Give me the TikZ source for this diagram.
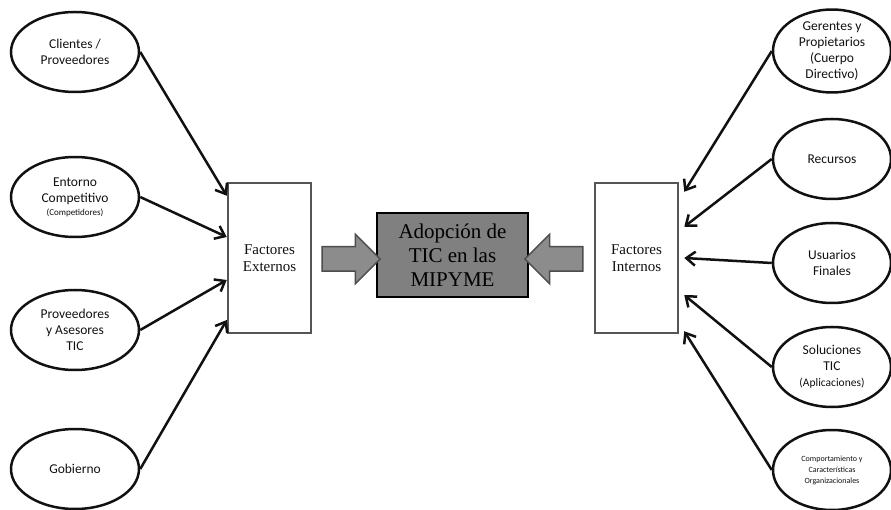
\documentclass[tikz,border=0pt]{standalone}
\usepackage{fontspec}
\setmainfont{Liberation Serif}
\newfontfamily\elfont{Carlito}
\usepackage{tikz}
\usepackage{xcolor}
\usetikzlibrary{arrows.meta, positioning, shapes, shapes.arrows}
\definecolor{FigInk}{HTML}{111111}
\definecolor{BoxInk}{HTML}{555555}
\definecolor{CoreFill}{HTML}{808080}
\definecolor{BigArrow}{HTML}{8C8C8C}
\definecolor{BigArrowInk}{HTML}{4D4D4D}

\begin{document}
\begin{tikzpicture}[x=1pt, y=-1pt, >={Straight Barb[length=9pt, width=14pt, line width=2.5pt]},
  factor/.style={draw=FigInk, ellipse, line width=2.5pt, minimum width=128pt,
    minimum height=80pt, inner sep=0pt, align=center, font=\elfont\fontsize{13.5}{16}\selectfont, text=FigInk},
  group/.style={draw=BoxInk, fill=white, line width=2.5pt, minimum width=83pt,
    minimum height=150pt, align=center, font=\fontsize{15}{17}\selectfont, text=FigInk},
  bigarrow/.style={single arrow, draw=BigArrowInk, fill=BigArrow, line width=1.5pt,
    minimum height=58pt, inner xsep=0pt, inner ysep=11.5pt, single arrow head extend=12.5pt},
  link/.style={->, FigInk, line width=2.5pt}]
\useasboundingbox (0,0) rectangle (891,510);
% factores externos
\node[factor] (cli) at (75,52) {Clientes /\\Proveedores};
\node[factor] (ent) at (75,197) {Entorno\\Competitivo\\[-3pt]{\fontsize{9}{10}\selectfont (Competidores)}};
\node[factor] (pro) at (75,330) {Proveedores\\y Asesores\\TIC};
\node[factor] (gob) at (75,469) {Gobierno};
% factores internos
\node[factor, minimum width=118pt, font=\elfont\fontsize{13.5}{16}\selectfont] (ger) at (832,51)
  {Gerentes y\\Propietarios\\(Cuerpo\\Directivo)};
\node[factor, minimum width=118pt] (rec) at (832,159) {Recursos};
\node[factor, minimum width=118pt] (usu) at (832,263) {Usuarios\\Finales};
\node[factor, minimum width=118pt] (sol) at (832,367) {Soluciones\\TIC\\{\fontsize{11.5}{13}\selectfont (Aplicaciones)}};
\node[factor, minimum width=118pt, font=\elfont\fontsize{8}{11}\selectfont] (com) at (832,470)
  {Comportamiento y\\Caracter\'isticas\\Organizacionales};
% cajas
\node[group] (ext) at (269.5,258) {Factores\\Externos};
\node[group] (int) at (636.5,258) {Factores\\Internos};
\node[draw=black, fill=CoreFill, line width=2.6pt, minimum width=151pt, minimum height=84pt,
      align=center, font=\fontsize{21}{24}\selectfont, text=black] (tic) at (452.5,255)
  {Adopci\'on de\\TIC en las\\MIPYME};
\node[bigarrow] (fext) at (345,259) {};
\node[bigarrow, shape border rotate=180] (fint) at (560,259) {};
% conectores
\draw[link] (cli.east) -- ([yshift=-14pt]ext.north west);
\draw[link] (ent.east) -- ([yshift=21pt]ext.west);
\draw[link] (pro.east) -- ([yshift=-22pt]ext.west);
\draw[link] (gob.east) -- ([yshift=-62pt]ext.west);
\draw[link] (ger.west) -- ([xshift=5pt, yshift=-10pt]int.north east);
\draw[link] (rec.west) -- ([xshift=5pt, yshift=-45pt]int.north east);
\draw[link] (usu.west) -- ([xshift=5pt]int.east);
\draw[link] (sol.west) -- ([xshift=5pt, yshift=-37pt]int.east);
\draw[link] (com.west) -- ([xshift=5pt, yshift=3pt]int.south east);
\end{tikzpicture}
\end{document}
